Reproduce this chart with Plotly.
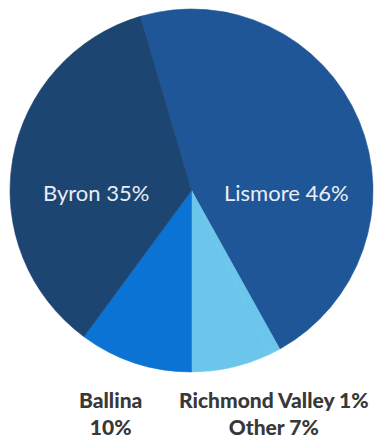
import plotly.graph_objects as go

labels = ["Lismore", "Richmond Valley", "Other", "Ballina", "Byron"]
values = [46, 1, 7, 10, 35]
colors = ["#1f5698", "#6cc6ec", "#6cc6ec", "#0b73d4", "#1c4572"]

inside_labels = ["Byron", "Lismore"]
bottom_groups = [["Ballina"], ["Richmond Valley", "Other"]]

val = dict(zip(labels, values))
total = sum(values)
# start the first slice so that the light/Ballina boundary falls at 6 o'clock
rotation = 180 - 360 * (val["Lismore"] + val["Richmond Valley"] + val["Other"]) / total

fig = go.Figure(go.Pie(
    labels=labels, values=values, sort=False, direction="clockwise",
    rotation=rotation, marker=dict(colors=colors, line=dict(width=0.6, color=colors)),
    textinfo="none", hoverinfo="label+percent", showlegend=False,
    domain=dict(x=[0.0262, 0.9764], y=[0.1526, 0.9795]),
))

inside_pos = {"Byron": (96, 192), "Lismore": (286, 192)}
for name in inside_labels:
    x, y = inside_pos[name]
    fig.add_annotation(text=f"{name} {val[name]}%", x=x / 382, y=1 - y / 439,
                       xref="paper", yref="paper", showarrow=False,
                       xanchor="center", yanchor="middle",
                       font=dict(family="Lato", size=22, color="#e9eef5"))

bottom_x = [110, 274]
for grp, x in zip(bottom_groups, bottom_x):
    if len(grp) == 1:
        lines = [grp[0], f"{val[grp[0]]}%"]
    else:
        lines = [f"{g} {val[g]}%" for g in grp]
    fig.add_annotation(text="<br>".join(lines), x=x / 382, y=1 - 413 / 439,
                       xref="paper", yref="paper", showarrow=False, align="center",
                       xanchor="center", yanchor="middle", borderpad=0,
                       font=dict(family="Lato", size=21, color="#383838", weight=900))

fig.update_layout(width=382, height=439, margin=dict(l=0, r=0, t=0, b=0),
                  paper_bgcolor="white", plot_bgcolor="white")
fig.write_html("out.html")
